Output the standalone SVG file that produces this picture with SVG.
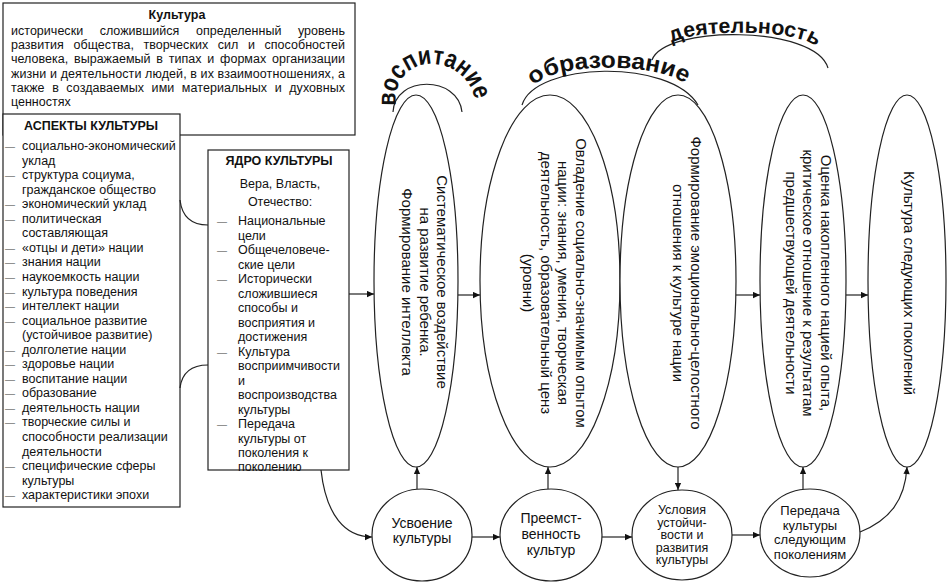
<svg xmlns="http://www.w3.org/2000/svg" width="949" height="583" viewBox="0 0 949 583">
<style>
text{font-family:"Liberation Sans",Arial,sans-serif;fill:#111}
.s{font-size:12.5px}
.b{font-weight:bold}
.h{font-size:12.5px;font-weight:bold}
.d{font-size:10px;fill:#777}
.e{font-size:15px}
.c{font-size:14px}
.arc{font-size:21px;font-weight:bold}
.box{fill:#fff;stroke:#222;stroke-width:1.2}
.ln{fill:none;stroke:#222;stroke-width:1.2}
.shape{fill:#fff;stroke:#222;stroke-width:1.2}
</style>
<defs>
<marker id="arr" viewBox="0 0 10 10" refX="10" refY="5" markerWidth="8" markerHeight="7" orient="auto" markerUnits="userSpaceOnUse">
<path d="M0,0.5 L10,5 L0,9.5 z" fill="#111"/>
</marker>
<path id="tp1" d="M396,106 C390,50 470,50 476,106"/>
<path id="tp2" d="M534,86 C550,63 655,61 686,84"/>
<path id="tp3" d="M672,43 C692,29 792,29 814,45"/>
</defs>

<g id="culture-def">
<rect class="box" x="3" y="3" width="352" height="132"/>
<text class="h" x="177" y="19" text-anchor="middle">Культура</text>
<text class="s" x="11" y="35" textLength="334" lengthAdjust="spacing" style="word-spacing:13px">исторически сложившийся определенный уровень</text>
<text class="s" x="11" y="49.2" textLength="334" lengthAdjust="spacing" style="word-spacing:6px">развития общества, творческих сил и способностей</text>
<text class="s" x="11" y="63.4" textLength="334" lengthAdjust="spacing" style="word-spacing:2.3px">человека, выражаемый в типах и формах организации</text>
<text class="s" x="11" y="77.6" textLength="334" lengthAdjust="spacing">жизни и деятельности людей, в их взаимоотношениях, а</text>
<text class="s" x="11" y="91.8" textLength="334" lengthAdjust="spacing" style="word-spacing:4px">также в создаваемых ими материальных и духовных</text>
<text class="s" x="11" y="106">ценностях</text>
</g>

<g id="aspects">
<rect class="box" x="3" y="114" width="177" height="393"/>
<text class="h" x="91" y="130" text-anchor="middle">АСПЕКТЫ КУЛЬТУРЫ</text>
<text class="s">
<tspan class="d" x="5" y="150">—</tspan><tspan x="22" y="150">социально-экономический</tspan>
<tspan x="22" y="164.55">уклад</tspan>
<tspan class="d" x="5" y="179.1">—</tspan><tspan x="22" y="179.1">структура социума,</tspan>
<tspan x="22" y="193.65">гражданское общество</tspan>
<tspan class="d" x="5" y="208.2">—</tspan><tspan x="22" y="208.2">экономический уклад</tspan>
<tspan class="d" x="5" y="222.75">—</tspan><tspan x="22" y="222.75">политическая</tspan>
<tspan x="22" y="237.3">составляющая</tspan>
<tspan class="d" x="5" y="251.85">—</tspan><tspan x="22" y="251.85">«отцы и дети» нации</tspan>
<tspan class="d" x="5" y="266.4">—</tspan><tspan x="22" y="266.4">знания нации</tspan>
<tspan class="d" x="5" y="280.95">—</tspan><tspan x="22" y="280.95">наукоемкость нации</tspan>
<tspan class="d" x="5" y="295.5">—</tspan><tspan x="22" y="295.5">культура поведения</tspan>
<tspan class="d" x="5" y="310.05">—</tspan><tspan x="22" y="310.05">интеллект нации</tspan>
<tspan class="d" x="5" y="324.6">—</tspan><tspan x="22" y="324.6">социальное развитие</tspan>
<tspan x="22" y="339.15">(устойчивое развитие)</tspan>
<tspan class="d" x="5" y="353.7">—</tspan><tspan x="22" y="353.7">долголетие нации</tspan>
<tspan class="d" x="5" y="368.25">—</tspan><tspan x="22" y="368.25">здоровье нации</tspan>
<tspan class="d" x="5" y="382.8">—</tspan><tspan x="22" y="382.8">воспитание нации</tspan>
<tspan class="d" x="5" y="397.35">—</tspan><tspan x="22" y="397.35">образование</tspan>
<tspan class="d" x="5" y="411.9">—</tspan><tspan x="22" y="411.9">деятельность нации</tspan>
<tspan class="d" x="5" y="426.45">—</tspan><tspan x="22" y="426.45">творческие силы и</tspan>
<tspan x="22" y="441">способности реализации</tspan>
<tspan x="22" y="455.55">деятельности</tspan>
<tspan class="d" x="5" y="470.1">—</tspan><tspan x="22" y="470.1">специфические сферы</tspan>
<tspan x="22" y="484.65">культуры</tspan>
<tspan class="d" x="5" y="499.2">—</tspan><tspan x="22" y="499.2">характеристики эпохи</tspan>
</text>
</g>

<g id="core">
<rect class="box" x="208" y="150" width="141" height="320"/>
<text class="h" x="279" y="164.5" text-anchor="middle">ЯДРО КУЛЬТУРЫ</text>
<text class="s" x="280" y="188" text-anchor="middle">Вера, Власть,</text>
<text class="s" x="280" y="206" text-anchor="middle">Отечество:</text>
<text class="s">
<tspan class="d" x="217" y="225">—</tspan><tspan x="238" y="225">Национальные</tspan>
<tspan x="238" y="239.5">цели</tspan>
<tspan class="d" x="217" y="254">—</tspan><tspan x="238" y="254">Общечеловече-</tspan>
<tspan x="238" y="268.5">ские цели</tspan>
<tspan class="d" x="217" y="283">—</tspan><tspan x="238" y="283">Исторически</tspan>
<tspan x="238" y="297.5">сложившиеся</tspan>
<tspan x="238" y="312">способы и</tspan>
<tspan x="238" y="326.5">восприятия и</tspan>
<tspan x="238" y="341">достижения</tspan>
<tspan class="d" x="217" y="355.5">—</tspan><tspan x="238" y="355.5">Культура</tspan>
<tspan x="238" y="370">восприимчивости</tspan>
<tspan x="238" y="384.5">и</tspan>
<tspan x="238" y="399">воспроизводства</tspan>
<tspan x="238" y="413.5">культуры</tspan>
<tspan class="d" x="217" y="428">—</tspan><tspan x="238" y="428">Передача</tspan>
<tspan x="238" y="442.5">культуры от</tspan>
<tspan x="238" y="457">поколения к</tspan>
<tspan x="238" y="470.5">поколению</tspan>
</text>
</g>

<g id="ellipse-1">
<ellipse class="shape" cx="416" cy="281" rx="42" ry="186"/>
<text class="e" transform="translate(437.4,282) rotate(90)" text-anchor="middle"><tspan x="0" y="0">Систематическое воздействие</tspan><tspan x="0" y="17.5">на развитие ребенка.</tspan><tspan x="0" y="35">Формирование интеллекта</tspan></text>
</g>
<g id="ellipse-2">
<ellipse class="shape" cx="550" cy="281" rx="70" ry="186"/>
<text class="e" transform="translate(575.6,283) rotate(90)" text-anchor="middle"><tspan x="0" y="0">Овладение социально-значимым опытом</tspan><tspan x="0" y="17.5">нации: знания, умения, творческая</tspan><tspan x="0" y="35">деятельность, образовательный ценз</tspan><tspan x="0" y="52.5">(уровни)</tspan></text>
</g>
<g id="ellipse-3">
<ellipse class="shape" cx="678" cy="281" rx="58" ry="186"/>
<text class="e" transform="translate(690.6,283) rotate(90)" text-anchor="middle"><tspan x="0" y="0">Формирование эмоционально-целостного</tspan><tspan x="0" y="17.5">отношения к культуре нации</tspan></text>
</g>
<g id="ellipse-4">
<ellipse class="shape" cx="803" cy="281" rx="43" ry="186"/>
<text class="e" transform="translate(820.7,283) rotate(90)" text-anchor="middle"><tspan x="0" y="0">Оценка накопленного нацией опыта,</tspan><tspan x="0" y="17.5">критическое отношение к результатам</tspan><tspan x="0" y="35">предшествующей деятельности</tspan></text>
</g>
<g id="ellipse-5">
<ellipse class="shape" cx="907" cy="281" rx="39" ry="186"/>
<text class="e" transform="translate(904,283) rotate(90)" text-anchor="middle">Культура следующих поколений</text>
</g>

<g id="circle-1">
<ellipse class="shape" cx="422" cy="535" rx="50" ry="46"/>
<text class="c" text-anchor="middle"><tspan x="422" y="528">Усвоение</tspan><tspan x="422" y="543">культуры</tspan></text>
</g>
<g id="circle-2">
<ellipse class="shape" cx="551" cy="535" rx="51" ry="46"/>
<text class="c" text-anchor="middle"><tspan x="551" y="523">Преемст-</tspan><tspan x="551" y="539">венность</tspan><tspan x="551" y="555">культур</tspan></text>
</g>
<g id="circle-3">
<ellipse class="shape" cx="682" cy="535" rx="50" ry="45"/>
<text class="c" style="font-size:12.5px" text-anchor="middle"><tspan x="682" y="514">Условия</tspan><tspan x="682" y="526.5">устойчи-</tspan><tspan x="682" y="539">вости и</tspan><tspan x="682" y="551.5">развития</tspan><tspan x="682" y="564">культуры</tspan></text>
</g>
<g id="circle-4">
<ellipse class="shape" cx="810" cy="533" rx="50" ry="44"/>
<text class="c" style="font-size:13px" text-anchor="middle"><tspan x="810" y="515">Передача</tspan><tspan x="810" y="529.5">культуры</tspan><tspan x="810" y="544">следующим</tspan><tspan x="810" y="558.5">поколениям</tspan></text>
</g>

<g id="label-vospitanie">
<path class="ln" d="M393,112 C395,75 458,75 462,112"/>
<text class="arc" style="font-size:26px"><textPath href="#tp1" textLength="124" lengthAdjust="spacingAndGlyphs">воспитание</textPath></text>
</g>
<g id="label-obrazovanie">
<path class="ln" d="M522,105 C535,62 670,58 698,105"/>
<text class="arc" style="font-size:23px"><textPath href="#tp2" textLength="158" lengthAdjust="spacingAndGlyphs">образование</textPath></text>
</g>
<g id="label-deyatelnost">
<path class="ln" d="M652,60 C665,25 815,25 828,68"/>
<text class="arc" style="font-size:21px"><textPath href="#tp3" textLength="148" lengthAdjust="spacingAndGlyphs">деятельность</textPath></text>
</g>

<g id="connectors">
<path class="ln" d="M180,200 C182,217 192,225 208,225"/>
<path class="ln" d="M180,388 C182,372 192,365 208,365"/>
<path class="ln" marker-end="url(#arr)" d="M349,294 L374,294"/>
<path class="ln" marker-end="url(#arr)" d="M321,470 C326,515 345,537 372,537"/>
<path class="ln" marker-end="url(#arr)" d="M458,295 L480,295"/>
<path class="ln" marker-end="url(#arr)" d="M736,295 L760,295"/>
<path class="ln" marker-end="url(#arr)" d="M846,295 L868,295"/>
<path class="ln" marker-end="url(#arr)" d="M417,489 L417,467"/>
<path class="ln" marker-end="url(#arr)" d="M548,489 L548,467"/>
<path class="ln" marker-end="url(#arr)" d="M678,467 L678,490"/>
<path class="ln" marker-end="url(#arr)" d="M803,489 L803,467"/>
<path class="ln" marker-end="url(#arr)" d="M860,532 C890,520 905,500 907,467"/>
<path class="ln" marker-end="url(#arr)" d="M472,537 L500,537"/>
<path class="ln" marker-end="url(#arr)" d="M602,537 L632,537"/>
<path class="ln" marker-end="url(#arr)" d="M732,535 L760,535"/>
</g>
</svg>
